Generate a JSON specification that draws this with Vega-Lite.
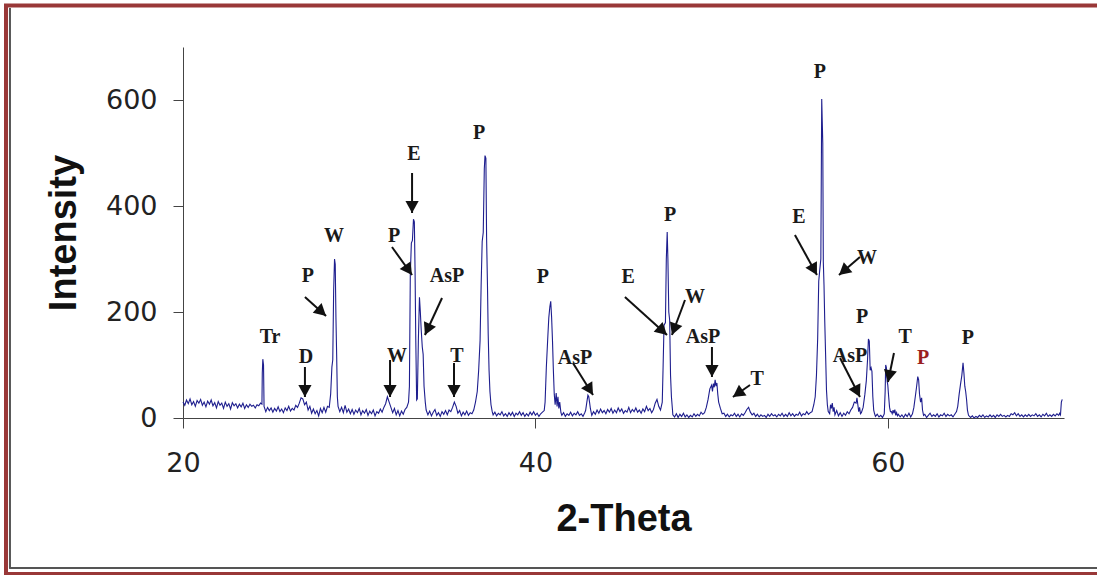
{
  "$schema": "https://vega.github.io/schema/vega-lite/v6.json",
  "width": 881,
  "height": 371,
  "autosize": {"type": "none"},
  "padding": {"left": 183, "top": 47, "right": 33, "bottom": 157},
  "background": "white",
  "config": {
    "view": {"stroke": null},
    "axis": {
      "grid": false, "labelFlush": false,
      "domainColor": "#444444", "tickColor": "#444444", "tickSize": 10,
      "labelFont": "DejaVu Sans", "labelFontSize": 27, "labelColor": "#222222",
      "titleFont": "Liberation Sans", "titleFontSize": 38, "titleFontWeight": "bold", "titleColor": "#111111"
    },
    "axisX": {"labelPadding": 22, "titlePadding": 24},
    "axisY": {"labelPadding": 16, "titlePadding": 22}
  },
  "datasets": {
    "xrd": [
      {"theta":20.0,"intensity":30},{"theta":20.1,"intensity":24},{"theta":20.2,"intensity":34},{"theta":20.3,"intensity":27},{"theta":20.4,"intensity":36},{"theta":20.5,"intensity":25},{"theta":20.6,"intensity":31},{"theta":20.7,"intensity":22},{"theta":20.8,"intensity":33},{"theta":20.9,"intensity":28},
      {"theta":21.0,"intensity":35},{"theta":21.1,"intensity":24},{"theta":21.2,"intensity":30},{"theta":21.3,"intensity":21},{"theta":21.4,"intensity":32},{"theta":21.5,"intensity":26},{"theta":21.6,"intensity":34},{"theta":21.7,"intensity":23},{"theta":21.8,"intensity":29},{"theta":21.9,"intensity":19},
      {"theta":22.0,"intensity":31},{"theta":22.1,"intensity":24},{"theta":22.2,"intensity":28},{"theta":22.3,"intensity":18},{"theta":22.4,"intensity":30},{"theta":22.5,"intensity":22},{"theta":22.6,"intensity":27},{"theta":22.7,"intensity":17},{"theta":22.8,"intensity":29},{"theta":22.9,"intensity":23},
      {"theta":23.0,"intensity":27},{"theta":23.1,"intensity":19},{"theta":23.2,"intensity":26},{"theta":23.3,"intensity":21},{"theta":23.4,"intensity":28},{"theta":23.5,"intensity":18},{"theta":23.6,"intensity":25},{"theta":23.7,"intensity":20},{"theta":23.8,"intensity":26},{"theta":23.9,"intensity":22},
      {"theta":24.0,"intensity":24},{"theta":24.1,"intensity":19},{"theta":24.2,"intensity":25},{"theta":24.3,"intensity":23},{"theta":24.4,"intensity":28},{"theta":24.48,"intensity":26},{"theta":24.5,"intensity":85},{"theta":24.53,"intensity":111},{"theta":24.57,"intensity":100},{"theta":24.6,"intensity":22},
      {"theta":24.7,"intensity":12},{"theta":24.8,"intensity":20},{"theta":24.9,"intensity":14},{"theta":25.0,"intensity":19},{"theta":25.1,"intensity":11},{"theta":25.2,"intensity":18},{"theta":25.3,"intensity":13},{"theta":25.4,"intensity":21},{"theta":25.5,"intensity":12},{"theta":25.6,"intensity":17},
      {"theta":25.7,"intensity":10},{"theta":25.8,"intensity":19},{"theta":25.9,"intensity":14},{"theta":26.0,"intensity":22},{"theta":26.1,"intensity":13},{"theta":26.2,"intensity":18},{"theta":26.3,"intensity":15},{"theta":26.4,"intensity":24},{"theta":26.5,"intensity":20},{"theta":26.6,"intensity":28},
      {"theta":26.7,"intensity":38},{"theta":26.8,"intensity":36},{"theta":26.9,"intensity":25},{"theta":27.0,"intensity":30},{"theta":27.1,"intensity":15},{"theta":27.2,"intensity":22},{"theta":27.3,"intensity":9},{"theta":27.4,"intensity":17},{"theta":27.5,"intensity":8},{"theta":27.6,"intensity":14},
      {"theta":27.7,"intensity":4},{"theta":27.8,"intensity":18},{"theta":27.9,"intensity":10},{"theta":28.0,"intensity":20},{"theta":28.1,"intensity":11},{"theta":28.2,"intensity":22},{"theta":28.3,"intensity":20},{"theta":28.38,"intensity":45},{"theta":28.45,"intensity":96},{"theta":28.5,"intensity":110},
      {"theta":28.55,"intensity":240},{"theta":28.6,"intensity":300},{"theta":28.64,"intensity":290},{"theta":28.68,"intensity":189},{"theta":28.72,"intensity":120},{"theta":28.76,"intensity":40},{"theta":28.8,"intensity":22},
      {"theta":28.9,"intensity":12},{"theta":29.0,"intensity":20},{"theta":29.1,"intensity":10},{"theta":29.2,"intensity":24},{"theta":29.3,"intensity":11},{"theta":29.4,"intensity":17},{"theta":29.5,"intensity":8},{"theta":29.6,"intensity":16},{"theta":29.7,"intensity":7},{"theta":29.8,"intensity":15},
      {"theta":29.9,"intensity":10},{"theta":30.0,"intensity":18},{"theta":30.1,"intensity":6},{"theta":30.2,"intensity":14},{"theta":30.3,"intensity":9},{"theta":30.4,"intensity":16},{"theta":30.5,"intensity":5},{"theta":30.6,"intensity":13},{"theta":30.7,"intensity":8},{"theta":30.8,"intensity":15},
      {"theta":30.9,"intensity":4},{"theta":31.0,"intensity":12},{"theta":31.1,"intensity":9},{"theta":31.2,"intensity":17},{"theta":31.3,"intensity":11},{"theta":31.4,"intensity":20},{"theta":31.5,"intensity":27},{"theta":31.6,"intensity":40},{"theta":31.7,"intensity":30},{"theta":31.8,"intensity":20},
      {"theta":31.9,"intensity":10},{"theta":32.0,"intensity":18},{"theta":32.1,"intensity":6},{"theta":32.2,"intensity":14},{"theta":32.3,"intensity":4},{"theta":32.4,"intensity":13},{"theta":32.5,"intensity":7},{"theta":32.6,"intensity":16},{"theta":32.7,"intensity":20},{"theta":32.8,"intensity":30},
      {"theta":32.85,"intensity":60},{"theta":32.9,"intensity":270},{"theta":32.96,"intensity":330},{"theta":33.02,"intensity":335},{"theta":33.08,"intensity":375},{"theta":33.13,"intensity":370},{"theta":33.17,"intensity":279},{"theta":33.21,"intensity":150},{"theta":33.26,"intensity":34},{"theta":33.3,"intensity":36},
      {"theta":33.36,"intensity":150},{"theta":33.42,"intensity":228},{"theta":33.47,"intensity":200},{"theta":33.52,"intensity":166},{"theta":33.58,"intensity":134},{"theta":33.63,"intensity":120},{"theta":33.68,"intensity":60},{"theta":33.75,"intensity":30},
      {"theta":33.8,"intensity":15},{"theta":33.9,"intensity":6},{"theta":34.0,"intensity":13},{"theta":34.1,"intensity":4},{"theta":34.2,"intensity":11},{"theta":34.3,"intensity":16},{"theta":34.4,"intensity":5},{"theta":34.5,"intensity":10},{"theta":34.6,"intensity":3},{"theta":34.7,"intensity":12},
      {"theta":34.8,"intensity":7},{"theta":34.9,"intensity":14},{"theta":35.0,"intensity":6},{"theta":35.1,"intensity":15},{"theta":35.2,"intensity":12},{"theta":35.3,"intensity":20},{"theta":35.4,"intensity":30},{"theta":35.5,"intensity":22},{"theta":35.6,"intensity":9},{"theta":35.7,"intensity":14},
      {"theta":35.8,"intensity":4},{"theta":35.9,"intensity":11},{"theta":36.0,"intensity":6},{"theta":36.1,"intensity":13},{"theta":36.2,"intensity":5},{"theta":36.3,"intensity":10},{"theta":36.4,"intensity":8},{"theta":36.5,"intensity":15},
      {"theta":36.6,"intensity":30},{"theta":36.7,"intensity":50},{"theta":36.78,"intensity":90},{"theta":36.86,"intensity":146},{"theta":36.92,"intensity":250},{"theta":36.98,"intensity":333},{"theta":37.04,"intensity":350},{"theta":37.1,"intensity":470},{"theta":37.14,"intensity":495},{"theta":37.19,"intensity":490},
      {"theta":37.23,"intensity":340},{"theta":37.28,"intensity":250},{"theta":37.32,"intensity":160},{"theta":37.37,"intensity":90},{"theta":37.42,"intensity":50},{"theta":37.48,"intensity":25},{"theta":37.55,"intensity":12},
      {"theta":37.6,"intensity":6},{"theta":37.7,"intensity":11},{"theta":37.8,"intensity":4},{"theta":37.9,"intensity":9},{"theta":38.0,"intensity":6},{"theta":38.1,"intensity":12},{"theta":38.2,"intensity":4},{"theta":38.3,"intensity":8},{"theta":38.4,"intensity":3},{"theta":38.5,"intensity":10},
      {"theta":38.6,"intensity":5},{"theta":38.7,"intensity":11},{"theta":38.8,"intensity":3},{"theta":38.9,"intensity":9},{"theta":39.0,"intensity":6},{"theta":39.1,"intensity":12},{"theta":39.2,"intensity":5},{"theta":39.3,"intensity":10},{"theta":39.4,"intensity":3},{"theta":39.5,"intensity":8},
      {"theta":39.6,"intensity":4},{"theta":39.7,"intensity":11},{"theta":39.8,"intensity":6},{"theta":39.9,"intensity":12},{"theta":40.0,"intensity":5},{"theta":40.1,"intensity":9},{"theta":40.2,"intensity":3},{"theta":40.3,"intensity":8},{"theta":40.4,"intensity":11},
      {"theta":40.5,"intensity":14},{"theta":40.55,"intensity":30},{"theta":40.62,"intensity":95},{"theta":40.7,"intensity":150},{"theta":40.76,"intensity":189},{"theta":40.82,"intensity":210},{"theta":40.87,"intensity":220},{"theta":40.92,"intensity":190},{"theta":40.97,"intensity":146},{"theta":41.02,"intensity":90},
      {"theta":41.07,"intensity":45},{"theta":41.12,"intensity":25},{"theta":41.18,"intensity":47},{"theta":41.23,"intensity":22},{"theta":41.28,"intensity":40},{"theta":41.33,"intensity":18},{"theta":41.38,"intensity":30},{"theta":41.45,"intensity":10},
      {"theta":41.5,"intensity":5},{"theta":41.6,"intensity":10},{"theta":41.7,"intensity":3},{"theta":41.8,"intensity":8},{"theta":41.9,"intensity":5},{"theta":42.0,"intensity":11},{"theta":42.1,"intensity":4},{"theta":42.2,"intensity":9},{"theta":42.3,"intensity":6},{"theta":42.4,"intensity":12},
      {"theta":42.5,"intensity":5},{"theta":42.6,"intensity":8},{"theta":42.7,"intensity":3},{"theta":42.8,"intensity":10},{"theta":42.85,"intensity":14},{"theta":42.92,"intensity":30},{"theta":42.98,"intensity":43},{"theta":43.03,"intensity":40},{"theta":43.08,"intensity":28},{"theta":43.12,"intensity":18},
      {"theta":43.18,"intensity":8},{"theta":43.2,"intensity":5},{"theta":43.3,"intensity":12},{"theta":43.4,"intensity":7},{"theta":43.5,"intensity":15},{"theta":43.6,"intensity":9},{"theta":43.7,"intensity":17},{"theta":43.8,"intensity":10},{"theta":43.9,"intensity":14},{"theta":44.0,"intensity":8},
      {"theta":44.1,"intensity":16},{"theta":44.2,"intensity":11},{"theta":44.3,"intensity":18},{"theta":44.4,"intensity":9},{"theta":44.5,"intensity":15},{"theta":44.6,"intensity":10},{"theta":44.7,"intensity":19},{"theta":44.8,"intensity":12},{"theta":44.9,"intensity":17},{"theta":45.0,"intensity":9},
      {"theta":45.1,"intensity":14},{"theta":45.2,"intensity":11},{"theta":45.3,"intensity":20},{"theta":45.4,"intensity":10},{"theta":45.5,"intensity":16},{"theta":45.6,"intensity":12},{"theta":45.7,"intensity":19},{"theta":45.8,"intensity":11},{"theta":45.9,"intensity":15},{"theta":46.0,"intensity":9},
      {"theta":46.1,"intensity":17},{"theta":46.2,"intensity":12},{"theta":46.3,"intensity":22},{"theta":46.4,"intensity":14},{"theta":46.5,"intensity":18},{"theta":46.6,"intensity":10},{"theta":46.7,"intensity":16},{"theta":46.8,"intensity":28},{"theta":46.9,"intensity":35},{"theta":47.0,"intensity":22},
      {"theta":47.1,"intensity":15},{"theta":47.2,"intensity":30},{"theta":47.25,"intensity":100},{"theta":47.3,"intensity":175},{"theta":47.38,"intensity":180},{"theta":47.43,"intensity":300},{"theta":47.48,"intensity":351},{"theta":47.52,"intensity":300},{"theta":47.57,"intensity":200},{"theta":47.62,"intensity":185},
      {"theta":47.67,"intensity":80},{"theta":47.72,"intensity":40},{"theta":47.78,"intensity":15},
      {"theta":47.8,"intensity":6},{"theta":47.9,"intensity":2},{"theta":48.0,"intensity":8},{"theta":48.1,"intensity":1},{"theta":48.2,"intensity":7},{"theta":48.3,"intensity":3},{"theta":48.4,"intensity":9},{"theta":48.5,"intensity":2},{"theta":48.6,"intensity":6},{"theta":48.7,"intensity":1},
      {"theta":48.8,"intensity":5},{"theta":48.9,"intensity":2},{"theta":49.0,"intensity":8},{"theta":49.1,"intensity":3},{"theta":49.2,"intensity":7},{"theta":49.3,"intensity":4},{"theta":49.4,"intensity":11},{"theta":49.5,"intensity":7},
      {"theta":49.6,"intensity":10},{"theta":49.7,"intensity":20},{"theta":49.8,"intensity":35},{"theta":49.9,"intensity":55},{"theta":50.0,"intensity":62},{"theta":50.05,"intensity":50},{"theta":50.1,"intensity":65},{"theta":50.15,"intensity":58},{"theta":50.2,"intensity":72},{"theta":50.25,"intensity":60},
      {"theta":50.3,"intensity":66},{"theta":50.35,"intensity":45},{"theta":50.4,"intensity":30},{"theta":50.5,"intensity":18},{"theta":50.6,"intensity":8},
      {"theta":50.7,"intensity":9},{"theta":50.8,"intensity":3},{"theta":50.9,"intensity":7},{"theta":51.0,"intensity":2},{"theta":51.1,"intensity":6},{"theta":51.2,"intensity":4},{"theta":51.3,"intensity":9},{"theta":51.4,"intensity":3},{"theta":51.5,"intensity":7},{"theta":51.6,"intensity":2},
      {"theta":51.7,"intensity":8},{"theta":51.8,"intensity":5},{"theta":51.9,"intensity":10},{"theta":52.0,"intensity":16},{"theta":52.1,"intensity":20},{"theta":52.2,"intensity":11},{"theta":52.3,"intensity":6},{"theta":52.4,"intensity":9},{"theta":52.5,"intensity":3},{"theta":52.6,"intensity":7},
      {"theta":52.7,"intensity":2},{"theta":52.8,"intensity":6},{"theta":52.9,"intensity":3},{"theta":53.0,"intensity":5},{"theta":53.1,"intensity":1},{"theta":53.2,"intensity":7},{"theta":53.3,"intensity":3},{"theta":53.4,"intensity":8},{"theta":53.5,"intensity":4},{"theta":53.6,"intensity":6},
      {"theta":53.7,"intensity":2},{"theta":53.8,"intensity":7},{"theta":53.9,"intensity":4},{"theta":54.0,"intensity":9},{"theta":54.1,"intensity":3},{"theta":54.2,"intensity":7},{"theta":54.3,"intensity":3},{"theta":54.4,"intensity":10},{"theta":54.5,"intensity":4},{"theta":54.6,"intensity":8},
      {"theta":54.7,"intensity":3},{"theta":54.8,"intensity":7},{"theta":54.9,"intensity":5},{"theta":55.0,"intensity":11},{"theta":55.1,"intensity":4},{"theta":55.2,"intensity":8},{"theta":55.3,"intensity":6},{"theta":55.4,"intensity":12},{"theta":55.5,"intensity":7},{"theta":55.6,"intensity":10},
      {"theta":55.7,"intensity":12},{"theta":55.8,"intensity":25},{"theta":55.88,"intensity":40},{"theta":55.95,"intensity":80},{"theta":56.02,"intensity":150},{"theta":56.08,"intensity":258},{"theta":56.14,"intensity":280},{"theta":56.2,"intensity":300},{"theta":56.25,"intensity":602},{"theta":56.28,"intensity":560},
      {"theta":56.31,"intensity":519},{"theta":56.34,"intensity":295},{"theta":56.38,"intensity":250},{"theta":56.42,"intensity":185},{"theta":56.47,"intensity":120},{"theta":56.52,"intensity":53},{"theta":56.57,"intensity":25},{"theta":56.62,"intensity":12},
      {"theta":56.7,"intensity":8},{"theta":56.75,"intensity":25},{"theta":56.8,"intensity":18},{"theta":56.85,"intensity":28},{"theta":56.9,"intensity":12},{"theta":56.95,"intensity":20},{"theta":57.0,"intensity":6},{"theta":57.1,"intensity":14},{"theta":57.2,"intensity":4},{"theta":57.3,"intensity":10},
      {"theta":57.4,"intensity":3},{"theta":57.5,"intensity":9},{"theta":57.6,"intensity":5},{"theta":57.7,"intensity":12},{"theta":57.8,"intensity":8},{"theta":57.9,"intensity":15},{"theta":58.0,"intensity":20},{"theta":58.1,"intensity":30},{"theta":58.2,"intensity":28},{"theta":58.25,"intensity":38},
      {"theta":58.3,"intensity":25},{"theta":58.35,"intensity":12},{"theta":58.4,"intensity":20},{"theta":58.45,"intensity":8},
      {"theta":58.5,"intensity":10},{"theta":58.6,"intensity":20},{"theta":58.7,"intensity":45},{"theta":58.78,"intensity":70},{"theta":58.85,"intensity":110},{"theta":58.9,"intensity":149},{"theta":58.95,"intensity":145},{"theta":59.0,"intensity":90},{"theta":59.05,"intensity":95},{"theta":59.1,"intensity":88},
      {"theta":59.15,"intensity":40},{"theta":59.2,"intensity":15},{"theta":59.25,"intensity":8},
      {"theta":59.3,"intensity":3},{"theta":59.4,"intensity":7},{"theta":59.5,"intensity":2},{"theta":59.6,"intensity":5},{"theta":59.7,"intensity":1},{"theta":59.75,"intensity":4},
      {"theta":59.8,"intensity":8},{"theta":59.85,"intensity":50},{"theta":59.88,"intensity":100},{"theta":59.92,"intensity":95},{"theta":59.96,"intensity":70},{"theta":60.0,"intensity":62},{"theta":60.05,"intensity":40},{"theta":60.1,"intensity":20},{"theta":60.15,"intensity":12},
      {"theta":60.2,"intensity":12},{"theta":60.25,"intensity":8},{"theta":60.3,"intensity":15},{"theta":60.35,"intensity":9},{"theta":60.4,"intensity":16},{"theta":60.45,"intensity":5},{"theta":60.5,"intensity":10},{"theta":60.55,"intensity":4},{"theta":60.6,"intensity":7},{"theta":60.7,"intensity":2},
      {"theta":60.8,"intensity":6},{"theta":60.9,"intensity":1},{"theta":61.0,"intensity":7},{"theta":61.1,"intensity":3},{"theta":61.2,"intensity":9},{"theta":61.3,"intensity":2},
      {"theta":61.4,"intensity":8},{"theta":61.48,"intensity":20},{"theta":61.56,"intensity":40},{"theta":61.63,"intensity":58},{"theta":61.7,"intensity":78},{"theta":61.75,"intensity":72},{"theta":61.8,"intensity":45},{"theta":61.86,"intensity":30},{"theta":61.92,"intensity":38},{"theta":61.97,"intensity":15},
      {"theta":62.03,"intensity":5},{"theta":62.1,"intensity":7},{"theta":62.2,"intensity":1},{"theta":62.3,"intensity":5},{"theta":62.4,"intensity":9},{"theta":62.5,"intensity":3},{"theta":62.6,"intensity":6},{"theta":62.7,"intensity":3},{"theta":62.8,"intensity":8},{"theta":62.9,"intensity":2},
      {"theta":63.0,"intensity":6},{"theta":63.1,"intensity":4},{"theta":63.2,"intensity":9},{"theta":63.3,"intensity":3},{"theta":63.4,"intensity":7},{"theta":63.5,"intensity":4},{"theta":63.6,"intensity":6},{"theta":63.7,"intensity":2},{"theta":63.8,"intensity":7},
      {"theta":63.9,"intensity":12},{"theta":63.97,"intensity":22},{"theta":64.05,"intensity":45},{"theta":64.12,"intensity":62},{"theta":64.2,"intensity":80},{"theta":64.27,"intensity":104},{"theta":64.32,"intensity":85},{"theta":64.37,"intensity":60},{"theta":64.42,"intensity":50},{"theta":64.47,"intensity":35},
      {"theta":64.52,"intensity":15},{"theta":64.58,"intensity":5},
      {"theta":64.7,"intensity":1},{"theta":64.8,"intensity":4},{"theta":64.9,"intensity":0},{"theta":65.0,"intensity":3},{"theta":65.1,"intensity":1},{"theta":65.2,"intensity":5},{"theta":65.3,"intensity":2},{"theta":65.4,"intensity":6},{"theta":65.5,"intensity":1},{"theta":65.6,"intensity":4},
      {"theta":65.7,"intensity":2},{"theta":65.8,"intensity":6},{"theta":65.9,"intensity":2},{"theta":66.0,"intensity":5},{"theta":66.1,"intensity":1},{"theta":66.2,"intensity":6},{"theta":66.3,"intensity":3},{"theta":66.4,"intensity":7},{"theta":66.5,"intensity":3},{"theta":66.6,"intensity":5},
      {"theta":66.7,"intensity":2},{"theta":66.8,"intensity":5},{"theta":66.9,"intensity":3},{"theta":67.0,"intensity":8},{"theta":67.1,"intensity":6},{"theta":67.2,"intensity":10},{"theta":67.3,"intensity":4},{"theta":67.4,"intensity":8},{"theta":67.5,"intensity":3},{"theta":67.6,"intensity":6},
      {"theta":67.7,"intensity":2},{"theta":67.8,"intensity":6},{"theta":67.9,"intensity":3},{"theta":68.0,"intensity":7},{"theta":68.1,"intensity":3},{"theta":68.2,"intensity":6},{"theta":68.3,"intensity":4},{"theta":68.4,"intensity":8},{"theta":68.5,"intensity":3},{"theta":68.6,"intensity":6},
      {"theta":68.7,"intensity":2},{"theta":68.8,"intensity":7},{"theta":68.9,"intensity":4},{"theta":69.0,"intensity":9},{"theta":69.1,"intensity":3},{"theta":69.2,"intensity":6},{"theta":69.3,"intensity":3},{"theta":69.4,"intensity":7},{"theta":69.5,"intensity":4},{"theta":69.6,"intensity":8},
      {"theta":69.7,"intensity":5},{"theta":69.75,"intensity":9},{"theta":69.8,"intensity":6},{"theta":69.85,"intensity":30},{"theta":69.9,"intensity":35}
    ],
    "labels": [
      {"text":"Tr","x":24.94,"y":153},
      {"text":"D","x":26.98,"y":115},
      {"text":"P","x":27.09,"y":268},
      {"text":"W","x":28.57,"y":343},
      {"text":"W","x":32.15,"y":117},
      {"text":"E","x":33.11,"y":498},
      {"text":"P","x":31.98,"y":343},
      {"text":"AsP","x":34.98,"y":268},
      {"text":"T","x":35.55,"y":117},
      {"text":"P","x":36.80,"y":538},
      {"text":"P","x":40.43,"y":266},
      {"text":"AsP","x":42.25,"y":113},
      {"text":"E","x":45.26,"y":266},
      {"text":"W","x":49.06,"y":228},
      {"text":"P","x":47.64,"y":383},
      {"text":"AsP","x":49.51,"y":153},
      {"text":"T","x":52.58,"y":74},
      {"text":"P","x":56.15,"y":653},
      {"text":"E","x":54.96,"y":379},
      {"text":"W","x":58.82,"y":302},
      {"text":"P","x":58.54,"y":191},
      {"text":"AsP","x":57.85,"y":117},
      {"text":"T","x":60.98,"y":153},
      {"text":"P","x":64.55,"y":151}
    ],
    "redLabels": [
      {"text":"P","x":62.0,"y":113}
    ],
    "arrows": [
      {"x":26.92,"y":96.2,"x2":26.92,"y2":39.6,"angle":0},
      {"x":26.92,"y":228.3,"x2":28.12,"y2":192.5,"angle":-47.9},
      {"x":31.75,"y":109.4,"x2":31.75,"y2":39.6,"angle":0},
      {"x":33.0,"y":462.3,"x2":33.0,"y2":386.8,"angle":0},
      {"x":31.86,"y":322.6,"x2":33.0,"y2":269.8,"angle":-35.5},
      {"x":34.70,"y":226.4,"x2":33.73,"y2":156.6,"angle":24.7},
      {"x":35.38,"y":103.8,"x2":35.38,"y2":39.6,"angle":0},
      {"x":42.13,"y":103.8,"x2":43.27,"y2":43.4,"angle":-32},
      {"x":45.08,"y":228.3,"x2":47.47,"y2":156.6,"angle":-47.9},
      {"x":48.49,"y":222.6,"x2":47.75,"y2":156.6,"angle":20.4},
      {"x":50.02,"y":134.0,"x2":50.02,"y2":77.4,"angle":0},
      {"x":52.18,"y":62.3,"x2":51.21,"y2":39.6,"angle":54.8},
      {"x":54.73,"y":345.3,"x2":55.98,"y2":269.8,"angle":-28.8},
      {"x":58.42,"y":303.8,"x2":57.23,"y2":269.8,"angle":49.4},
      {"x":57.29,"y":113.2,"x2":58.42,"y2":39.6,"angle":-27.1},
      {"x":60.35,"y":122.6,"x2":60.01,"y2":67.9,"angle":11.7}
    ]
  },
  "layer": [
    {
      "data": {"name": "xrd"},
      "mark": {"type": "line", "color": "#1e1e8e", "strokeWidth": 1.1, "clip": false},
      "encoding": {
        "x": {
          "field": "theta", "type": "quantitative",
          "scale": {"domain": [20, 70], "nice": false},
          "axis": {"title": "2-Theta", "values": [20, 40, 60]}
        },
        "y": {
          "field": "intensity", "type": "quantitative",
          "scale": {"domain": [0, 700], "nice": false},
          "axis": {"title": "Intensity", "values": [0, 200, 400, 600]}
        }
      }
    },
    {
      "data": {"values": [{}]},
      "mark": {"type": "rect", "fill": null, "filled": false, "stroke": "#993838", "strokeWidth": 4, "clip": false},
      "encoding": {
        "x": {"datum": 9.955, "type": "quantitative"},
        "x2": {"datum": 72.61},
        "y": {"datum": 778.3, "type": "quantitative"},
        "y2": {"datum": -294.3}
      }
    },
    {
      "data": {"values": [{}]},
      "mark": {"type": "rule", "stroke": "#555555", "strokeWidth": 2, "clip": false},
      "encoding": {
        "x": {"datum": 10.18, "type": "quantitative"},
        "y": {"datum": 773.6, "type": "quantitative"},
        "y2": {"datum": -283}
      }
    },
    {
      "data": {"values": [{}]},
      "mark": {"type": "rule", "stroke": "#555555", "strokeWidth": 2, "clip": false},
      "encoding": {
        "x": {"datum": 10.13, "type": "quantitative"},
        "x2": {"datum": 72.61},
        "y": {"datum": -283, "type": "quantitative"}
      }
    },
    {
      "data": {"name": "arrows"},
      "mark": {"type": "rule", "color": "#111111", "strokeWidth": 2, "clip": false},
      "encoding": {
        "x": {"field": "x", "type": "quantitative"},
        "y": {"field": "y", "type": "quantitative"},
        "x2": {"field": "x2"},
        "y2": {"field": "y2"}
      }
    },
    {
      "data": {"name": "arrows"},
      "mark": {"type": "point", "shape": "M0,0L-0.55,-1L0.55,-1Z", "filled": true, "size": 576, "color": "#111111", "opacity": 1, "clip": false},
      "encoding": {
        "x": {"field": "x2", "type": "quantitative"},
        "y": {"field": "y2", "type": "quantitative"},
        "angle": {"field": "angle", "type": "quantitative", "scale": null}
      }
    },
    {
      "data": {"name": "labels"},
      "mark": {"type": "text", "font": "Liberation Serif", "fontSize": 20, "fontWeight": "bold", "color": "#1a1a1a", "align": "center", "baseline": "middle", "clip": false},
      "encoding": {
        "x": {"field": "x", "type": "quantitative"},
        "y": {"field": "y", "type": "quantitative"},
        "text": {"field": "text", "type": "nominal"}
      }
    },
    {
      "data": {"name": "redLabels"},
      "mark": {"type": "text", "font": "Liberation Serif", "fontSize": 20, "fontWeight": "bold", "color": "#9a1f1f", "align": "center", "baseline": "middle", "clip": false},
      "encoding": {
        "x": {"field": "x", "type": "quantitative"},
        "y": {"field": "y", "type": "quantitative"},
        "text": {"field": "text", "type": "nominal"}
      }
    }
  ]
}
